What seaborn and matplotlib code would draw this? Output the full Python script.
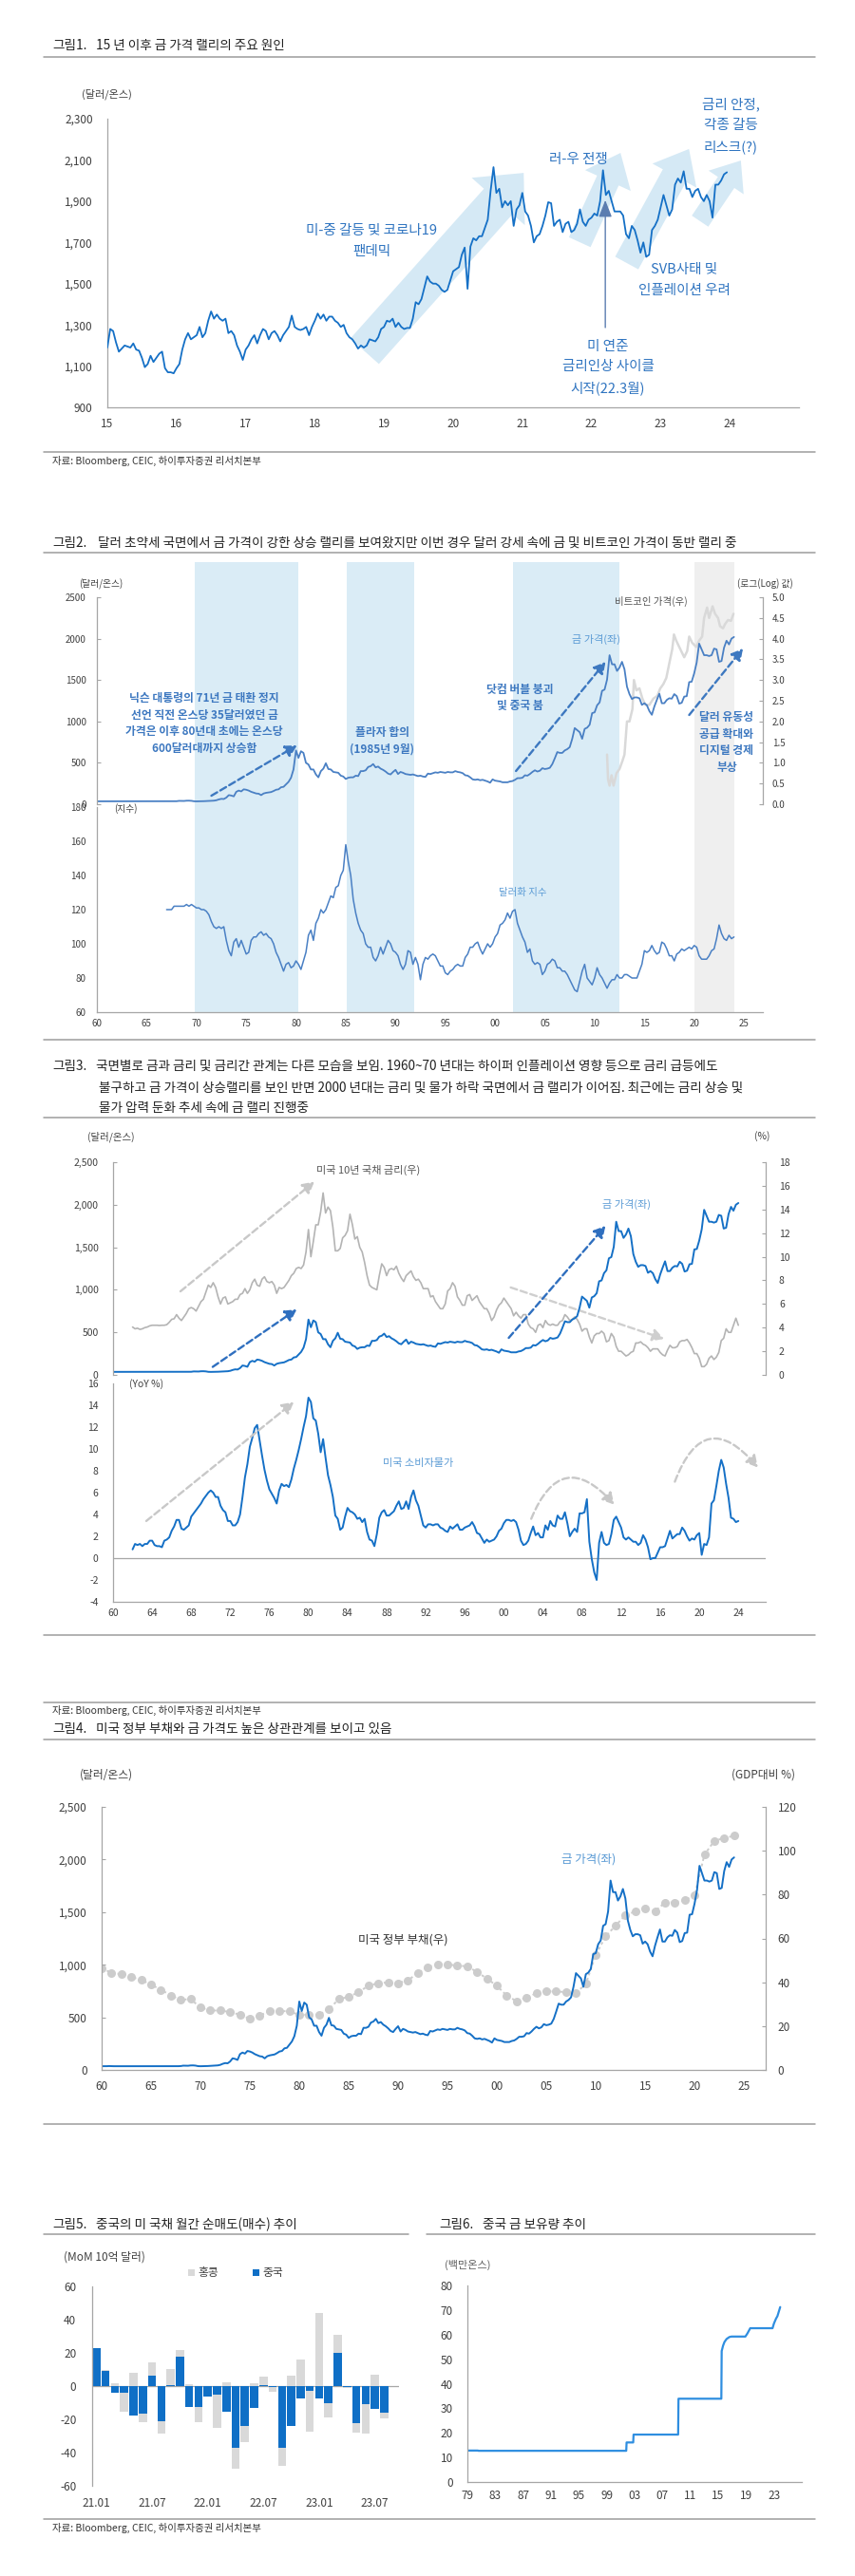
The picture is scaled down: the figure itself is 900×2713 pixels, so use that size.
import matplotlib
matplotlib.use("Agg")
import matplotlib.pyplot as plt
import numpy as np
import seaborn as sns
from matplotlib.lines import Line2D
from matplotlib.patches import Patch

sns.set_style("white")
plt.rcParams["font.family"] = ["Noto Sans CJK KR", "DejaVu Sans"]
plt.rcParams["axes.unicode_minus"] = False

# ---------------- data ----------------
# fig 1: gold price, two readings per month, Jan 2015 - Dec 2023 (USD/oz)
gold_1523 = [
    1190, 1280, 1270, 1215, 1170, 1185, 1200, 1195, 1190, 1210, 1180, 1175,
    1140, 1095, 1110, 1150, 1120, 1140, 1160, 1170, 1090, 1070, 1070, 1065,
    1090, 1110, 1180, 1230, 1260, 1230, 1240, 1250, 1290, 1240, 1260, 1320,
    1365, 1330, 1350, 1330, 1320, 1330, 1260, 1270, 1250, 1200, 1170, 1130,
    1180, 1200, 1230, 1250, 1210, 1250, 1280, 1270, 1230, 1260, 1270, 1250,
    1220, 1250, 1270, 1290, 1345, 1290, 1280, 1275, 1280, 1290, 1250, 1290,
    1320, 1355, 1330, 1350, 1320, 1340, 1340, 1320, 1310, 1290, 1300, 1260,
    1240, 1230, 1210, 1185, 1200, 1190, 1200, 1230, 1225, 1220, 1240, 1280,
    1290, 1320, 1315, 1330, 1290, 1310, 1290, 1280, 1285, 1285, 1330, 1410,
    1400, 1425, 1480, 1535, 1510, 1500, 1500, 1490, 1470, 1460, 1470, 1515,
    1560, 1570, 1580, 1640, 1675, 1475, 1680, 1720, 1710, 1730, 1730, 1770,
    1810, 1950, 2065, 1940, 1960, 1870, 1900, 1880, 1900, 1780, 1860, 1880,
    1940, 1850, 1830, 1780, 1700, 1730, 1740, 1780, 1830, 1895, 1890, 1780,
    1800, 1810, 1750, 1790, 1800, 1750, 1760, 1790, 1860, 1800, 1780, 1810,
    1820, 1840, 1830, 1900, 2050, 1930, 1950, 1900, 1850, 1850, 1850, 1830,
    1740, 1720, 1780, 1760, 1710, 1650, 1700, 1630, 1640, 1760, 1780, 1810,
    1870, 1930, 1880, 1830, 1860, 1980, 2010, 1990, 2045, 1960, 1960, 1920,
    1950, 1960, 1920, 1900, 1930, 1900, 1820, 1980, 1980, 2000, 2030, 2040,
]

# gold price, quarterly 1960Q1 - 2024Q1 (USD/oz), figs 2-4
gold_q = [
    35.3, 35.3, 35.4, 36.5, 35.6, 35.1, 35.3, 35.2, 35.1, 35.1, 35.1, 35.1,
    35.1, 35.1, 35.1, 35.1, 35.1, 35.1, 35.1, 35.1, 35.1, 35.1, 35.1, 35.1,
    35.1, 35.1, 35.2, 35.2, 35.2, 35.2, 35.2, 35.5, 36.5, 40.5, 39.5, 39.5,
    42.5, 43.0, 41.0, 36.0, 35.0, 35.5, 36.0, 37.0, 38.5, 40.0, 41.5, 43.0,
    48.0, 58.0, 65.0, 63.0, 80.0, 110.0, 105.0, 95.0, 150.0, 165.0, 155.0, 180.0,
    175.0, 165.0, 150.0, 140.0, 130.0, 127.0, 110.0, 130.0, 138.0, 143.0, 147.0, 160.0,
    175.0, 180.0, 205.0, 210.0, 240.0, 270.0, 320.0, 420.0, 650.0, 560.0, 640.0, 620.0,
    500.0, 480.0, 420.0, 420.0, 360.0, 325.0, 400.0, 430.0, 495.0, 425.0, 420.0, 390.0,
    385.0, 380.0, 345.0, 335.0, 305.0, 320.0, 325.0, 325.0, 345.0, 340.0, 400.0, 400.0,
    410.0, 450.0, 460.0, 485.0, 445.0, 455.0, 430.0, 415.0, 395.0, 370.0, 360.0, 390.0,
    415.0, 365.0, 390.0, 380.0, 365.0, 360.0, 355.0, 360.0, 350.0, 340.0, 345.0, 335.0,
    330.0, 370.0, 365.0, 375.0, 385.0, 380.0, 390.0, 385.0, 380.0, 390.0, 385.0, 385.0,
    400.0, 390.0, 385.0, 375.0, 350.0, 345.0, 325.0, 300.0, 295.0, 300.0, 290.0, 295.0,
    285.0, 275.0, 260.0, 300.0, 285.0, 280.0, 275.0, 265.0, 265.0, 265.0, 275.0, 280.0,
    295.0, 315.0, 315.0, 320.0, 350.0, 345.0, 365.0, 390.0, 410.0, 395.0, 405.0, 435.0,
    425.0, 430.0, 440.0, 485.0, 555.0, 630.0, 620.0, 620.0, 650.0, 665.0, 690.0, 790.0,
    920.0, 895.0, 870.0, 790.0, 910.0, 925.0, 960.0, 1100.0, 1110.0, 1195.0, 1230.0, 1370.0,
    1385.0, 1505.0, 1800.0, 1690.0, 1690.0, 1610.0, 1650.0, 1720.0, 1630.0, 1420.0, 1330.0, 1270.0,
    1290.0, 1290.0, 1280.0, 1200.0, 1220.0, 1195.0, 1125.0, 1080.0, 1180.0, 1260.0, 1335.0, 1220.0,
    1220.0, 1260.0, 1280.0, 1275.0, 1330.0, 1305.0, 1215.0, 1225.0, 1300.0, 1305.0, 1475.0, 1480.0,
    1580.0, 1710.0, 1940.0, 1870.0, 1800.0, 1800.0, 1790.0, 1800.0, 1880.0, 1870.0, 1720.0, 1730.0,
    1890.0, 1975.0, 1930.0, 2000.0, 2020.0,
]

# fig 2: dollar index, quarterly 1967Q1 - 2024Q1
dxy_q = [
    120, 120, 120, 122, 122, 122, 122, 122, 123, 122, 123, 122,
    121, 121, 120, 120, 119, 117, 113, 110, 109, 110, 109, 110,
    102, 96, 93, 101, 103, 98, 102, 98, 94, 95, 102, 104,
    104, 106, 107, 105, 106, 104, 103, 100, 95, 92, 88, 84,
    88, 89, 86, 87, 90, 88, 85, 90, 95, 105, 108, 102,
    112, 115, 120, 118, 120, 124, 128, 127, 133, 134, 140, 143,
    158, 148, 140, 126, 118, 112, 108, 106, 100, 98, 98, 92,
    90, 93, 98, 94, 98, 102, 100, 96, 95, 93, 88, 85,
    88, 96, 95, 88, 92, 88, 79, 88, 92, 91, 93, 94,
    93, 90, 87, 87, 83, 82, 84, 85, 87, 88, 87, 87,
    92, 94, 98, 98, 100, 101, 97, 94, 97, 100, 98, 100,
    104, 106, 111, 112, 114, 118, 115, 119, 120, 112, 108, 104,
    101, 95, 97, 90, 88, 89, 88, 82, 84, 88, 89, 91,
    90, 86, 86, 84, 84, 82, 79, 76, 73, 72, 78, 84,
    88, 80, 78, 76, 80, 86, 82, 80, 77, 74, 77, 79,
    79, 82, 80, 80, 82, 82, 81, 80, 80, 80, 84, 88,
    96, 95, 96, 99, 96, 94, 95, 101, 100, 97, 93, 93,
    90, 94, 95, 97, 96, 97, 98, 97, 99, 98, 93, 91,
    91, 91, 93, 96, 97, 103, 111, 106, 103, 102, 105, 103,
    104,
]

# fig 2: bitcoin price, log10 (right axis)
btc_year = [2011.25, 2011.35, 2011.5, 2011.7, 2011.9, 2012.2, 2012.5, 2012.8,
            2013.0, 2013.25, 2013.5, 2013.8, 2013.95, 2014.2, 2014.5, 2014.8,
            2015.1, 2015.5, 2015.9, 2016.3, 2016.6, 2016.9, 2017.2, 2017.5,
            2017.8, 2017.97, 2018.2, 2018.5, 2018.8, 2019.0, 2019.3, 2019.5,
            2019.8, 2020.0, 2020.2, 2020.5, 2020.8, 2021.0, 2021.3, 2021.5,
            2021.85, 2022.1, 2022.4, 2022.6, 2022.9, 2023.1, 2023.4, 2023.7,
            2023.95]
btc_log = [1.2, 0.6, 0.45, 0.7, 0.45, 0.75, 0.85, 1.05,
           1.2, 2.0, 2.0, 2.3, 3.0, 2.75, 2.8, 2.55,
           2.4, 2.4, 2.55, 2.62, 2.8, 2.9, 3.05, 3.4,
           3.75, 4.1, 3.95, 3.8, 3.65, 3.55, 3.7, 4.05,
           3.9, 3.85, 3.8, 3.95, 4.05, 4.5, 4.75, 4.5,
           4.78, 4.6, 4.5, 4.3, 4.25, 4.35, 4.45, 4.43,
           4.6]

# fig 3: US 10y treasury yield (%), quarterly 1962Q1 - 2024Q1
ust10y_q = [
    4.05, 3.90, 3.95, 3.85, 3.90, 4.00, 4.05, 4.15, 4.20, 4.20, 4.20, 4.18,
    4.20, 4.20, 4.25, 4.45, 4.70, 4.75, 5.10, 4.80, 4.60, 4.90, 5.20, 5.60,
    5.70, 5.60, 5.40, 5.80, 6.20, 6.40, 7.00, 7.60, 7.40, 7.80, 7.40, 6.60,
    6.00, 6.50, 6.60, 6.00, 6.10, 6.20, 6.40, 6.40, 6.80, 6.90, 7.30, 6.90,
    7.20, 7.80, 8.10, 7.60, 7.50, 8.10, 8.30, 7.90, 7.80, 7.90, 7.60, 6.90,
    7.40, 7.30, 7.40, 7.70, 8.00, 8.40, 8.60, 9.00, 9.10, 9.00, 9.30, 10.40,
    12.30, 10.00, 11.30, 12.70, 12.70, 13.80, 15.40, 13.70, 14.20, 13.90, 12.50, 10.50,
    10.50, 10.70, 11.60, 11.80, 12.20, 13.60, 12.70, 11.50, 11.70, 10.80, 10.40, 9.50,
    8.40, 7.60, 7.40, 7.30, 7.20, 8.40, 9.40, 9.10, 8.40, 8.90, 9.00, 8.90,
    9.20, 8.60, 8.20, 7.90, 8.40, 8.60, 8.80, 8.30, 8.00, 8.10, 7.80, 7.30,
    7.30, 7.30, 6.60, 6.70, 6.20, 5.90, 5.60, 5.60, 6.00, 7.10, 7.30, 7.80,
    7.50, 6.60, 6.30, 5.90, 5.90, 6.70, 6.80, 6.30, 6.50, 6.70, 6.20, 5.90,
    5.60, 5.60, 5.20, 4.60, 4.90, 5.50, 5.90, 6.10, 6.50, 6.20, 5.90, 5.60,
    5.00, 5.30, 5.00, 4.80, 5.10, 5.10, 4.30, 4.00, 3.90, 3.60, 4.20, 4.30,
    4.00, 4.60, 4.30, 4.20, 4.30, 4.20, 4.20, 4.50, 4.60, 5.10, 4.90, 4.60,
    4.70, 4.90, 4.70, 4.30, 3.70, 3.90, 3.90, 3.20, 2.70, 3.30, 3.50, 3.50,
    3.70, 3.50, 2.80, 2.90, 3.50, 3.20, 2.40, 2.00, 2.00, 1.80, 1.60, 1.70,
    1.90, 2.00, 2.70, 2.70, 2.80, 2.60, 2.50, 2.30, 2.00, 2.20, 2.20, 2.20,
    1.90, 1.70, 1.60, 2.10, 2.50, 2.30, 2.30, 2.40, 2.80, 2.90, 2.90, 3.00,
    2.70, 2.30, 1.80, 1.80, 1.40, 0.70, 0.70, 0.90, 1.40, 1.60, 1.30, 1.50,
    1.90, 2.90, 3.10, 3.90, 3.60, 3.60, 4.20, 4.80, 4.20,
]

# fig 3: US CPI (YoY %), quarterly 1962Q1 - 2024Q1
cpi_q = [
    0.8, 1.3, 1.2, 1.3, 1.1, 1.3, 1.3, 1.6, 1.6, 1.2, 1.1, 1.1,
    1.0, 1.6, 1.7, 1.9, 2.5, 2.9, 3.5, 3.5, 2.7, 2.6, 2.8, 3.0,
    3.8, 4.1, 4.4, 4.7, 5.0, 5.4, 5.7, 6.0, 6.2, 6.0, 5.6, 5.6,
    4.8, 4.4, 4.2, 3.4, 3.4, 3.0, 3.0, 3.3, 4.0, 5.6, 7.4, 8.6,
    10.2, 11.0, 11.9, 12.2, 10.8, 9.4, 8.1, 7.1, 6.3, 5.9, 5.5, 5.0,
    6.2, 6.8, 6.6, 6.7, 6.5, 7.2, 8.2, 9.0, 9.9, 10.9, 12.0, 13.0,
    14.7, 14.3, 12.8, 12.6, 11.4, 9.7, 10.9, 9.2, 7.6, 6.7, 5.6, 3.9,
    3.6, 2.6, 2.8, 3.8, 4.6, 4.3, 4.2, 4.0, 3.6, 3.7, 3.3, 3.6,
    2.4, 1.7, 1.6, 1.1, 2.2, 3.7, 4.2, 4.4, 3.9, 3.9, 4.1, 4.3,
    4.8, 5.2, 4.5, 4.6, 5.2, 4.5, 5.6, 6.2, 5.3, 4.8, 3.9, 3.0,
    2.8, 3.1, 3.1, 3.0, 3.1, 3.1, 2.8, 2.7, 2.5, 2.4, 2.9, 2.7,
    2.9, 3.1, 2.6, 2.6, 2.8, 2.9, 3.0, 3.3, 2.9, 2.3, 2.2, 1.8,
    1.4, 1.7, 1.5, 1.6, 1.7, 2.0, 2.5, 2.7, 3.2, 3.5, 3.5, 3.4,
    3.5, 3.3, 2.6, 1.6, 1.2, 1.3, 1.6, 2.3, 2.9, 2.1, 2.3, 1.9,
    1.9, 3.0, 2.6, 3.4, 3.0, 2.9, 3.9, 3.6, 3.6, 4.2, 3.2, 2.0,
    2.4, 2.7, 2.4, 4.1, 4.1, 4.2, 5.4, 1.5, -0.1, -1.3, -2.0, 1.4,
    2.4, 1.4, 1.2, 1.3, 2.2, 3.5, 3.8, 3.3, 2.8, 1.9, 1.7, 1.9,
    1.7, 1.5, 1.5, 1.2, 1.4, 2.1, 1.7, 1.0, -0.1, 0.0, 0.0, 0.5,
    1.0, 1.0, 1.1, 1.8, 2.5, 1.8, 2.0, 2.2, 2.2, 2.8, 2.5, 2.0,
    1.6, 1.8, 1.7, 2.1, 2.3, 0.3, 1.3, 1.2, 1.9, 5.0, 5.3, 6.6,
    8.0, 9.0, 8.3, 6.8, 5.5, 3.7, 3.6, 3.3, 3.4,
]

# fig 4: US federal debt (% of GDP), annual
debt_year = list(range(1960, 2025))
debt_gdp = [46.2, 44.4, 43.6, 42.4, 41.1, 38.9, 36.6, 34.0, 32.0, 32.3,
            28.5, 27.1, 27.1, 26.4, 25.2, 23.3, 24.8, 26.9, 26.9, 26.7,
            25.1, 25.2, 25.2, 27.7, 32.3, 33.3, 35.5, 38.4, 39.6, 39.9,
            39.6, 40.9, 44.2, 46.9, 48.2, 48.0, 47.7, 47.2, 44.7, 41.6,
            38.4, 33.8, 31.4, 33.0, 35.0, 35.8, 35.8, 35.5, 35.1, 39.3,
            52.5, 60.9, 65.8, 70.6, 72.3, 73.8, 72.3, 76.4, 76.4, 77.6,
            79.5, 98.2, 104.5, 105.8, 106.8]

# fig 5: monthly net purchase of US treasuries (bn USD), 2021.01 - 2023.08
months = [f"{y}.{m:02d}" for y in (21, 22, 23) for m in range(1, 13)][:32]
china_net = [23.0, 9.3, -3.8, -4.2, -17.7, -16.6, 6.5, -21.3, 0.5, 17.7, -12.4, -12.4,
             -6.5, -5.1, -15.4, -37.3, -24.0, -13.0, 0.8, -0.8, -37.0, -23.8, -7.4, -3.0,
             -7.6, -10.3, 20.2, -0.3, -22.3, -11.0, -13.9, -16.2]
hk_net = [0.0, 0.7, 2.0, -11.2, 8.2, -4.9, 8.0, -7.5, 10.0, 4.0, 1.0, -9.1,
          0.0, -20.2, 2.3, -12.6, -9.5, 1.7, 5.1, -2.8, -11.0, 6.3, 16.2, -24.4,
          44.0, -8.4, 10.8, -0.7, -5.9, -17.4, 6.9, -3.2]

# fig 6: China gold reserves (million oz)
reserve_year = [1979.0, 1980.5, 1980.6, 2001.8, 2001.85, 2002.8, 2002.85, 2009.25,
                2009.3, 2015.45, 2015.5, 2015.7, 2015.9, 2016.2, 2016.6, 2016.9,
                2018.9, 2019.2, 2019.6, 2022.8, 2023.0, 2023.3, 2023.5, 2023.9]
reserve_moz = [12.8, 12.8, 12.7, 12.7, 16.1, 16.1, 19.3, 19.3,
               33.9, 33.9, 53.3, 55.5, 57.0, 58.2, 59.0, 59.2,
               59.2, 60.5, 62.6, 62.6, 64.5, 66.5, 67.5, 71.2]

# fig 2 shaded periods
blue_periods = [(1969.8, 1980.2), (1985.1, 1991.9), (2001.8, 2012.5)]
gray_period = (2020.0, 2024.05)

# ---------------- styling ----------------
TXT = "#404040"
SPINE = "#a6a6a6"
RULE = "#9c9c9c"
BLUE = "#1570c6"
BLUE2 = "#4a80c4"
ANN = "#2f74c0"
LIGHT = "#5b9bd5"
ARROW_BG = "#d5e9f5"
NUM_FONT = ["Liberation Sans Narrow", "Noto Sans CJK KR", "DejaVu Sans"]

W, H = 900, 2713
fig = plt.figure(figsize=(W / 100, H / 100), dpi=100)


def rect(l, t, r, b):
    return [l / W, 1 - b / H, (r - l) / W, (b - t) / H]


def ptext(x, y, s, **kw):
    kw.setdefault("va", "center")
    kw.setdefault("color", TXT)
    return fig.text(x / W, 1 - y / H, s, **kw)


def rule(y, x0=46, x1=858):
    fig.add_artist(Line2D([x0 / W, x1 / W], [1 - y / H] * 2, color=RULE, lw=1.1))


def title(y, num, s, x=55, dx=46):
    ptext(x, y, num, fontsize=9.8, color="#222222")
    ptext(x + dx, y, s, fontsize=9.8, color="#222222")


def style(ax, spines=("left", "bottom"), size=8, pad=None):
    for s in ("left", "right", "top", "bottom"):
        ax.spines[s].set_visible(s in spines)
        ax.spines[s].set_color(SPINE)
        ax.spines[s].set_linewidth(0.9)
    ax.tick_params(direction="in", length=3, width=0.8, color=SPINE,
                   labelcolor=TXT, labelsize=size)
    ax.patch.set_visible(False)
    ax.set_xlabel("")
    ax.set_ylabel("")


def narrow(ax):
    for lab in ax.get_xticklabels() + ax.get_yticklabels():
        lab.set_family(NUM_FONT)


def fat_arrow(ax, tail, tip, tw, hw, hl):
    ax.annotate("", xy=tip, xytext=tail, zorder=1,
                arrowprops=dict(arrowstyle=f"simple,head_length={hl},head_width={hw},tail_width={tw}",
                                fc=ARROW_BG, ec="none", shrinkA=0, shrinkB=0,
                                mutation_scale=10))


def dash_arrow(ax, tail, tip, color, rad=0.0):
    ax.annotate("", xy=tip, xytext=tail, zorder=4,
                arrowprops=dict(arrowstyle="-|>,head_length=0.55,head_width=0.3",
                                color=color, lw=1.7, ls=(0, (3, 1.6)),
                                shrinkA=0, shrinkB=0, mutation_scale=13,
                                connectionstyle=f"arc3,rad={rad}"))


def yr_labels(years):
    return [f"{y % 100:02d}" for y in years]


# ================= fig 1 =================
title(48, "그림1.", "15 년 이후 금 가격 랠리의 주요 원인")
rule(60)
ptext(112, 99, "(달러/온스)", fontsize=8, ha="center")

ax1 = fig.add_axes(rect(113, 125, 841, 429))
x15 = 2015 + np.arange(len(gold_1523)) / 24
fat_arrow(ax1, (2018.72, 1172), (2021.02, 2037), 2.9, 5.4, 2.9)
fat_arrow(ax1, (2021.83, 1701), (2022.42, 2134), 1.8, 3.8, 2.3)
fat_arrow(ax1, (2022.51, 1600), (2023.41, 2153), 2.0, 3.8, 2.3)
fat_arrow(ax1, (2023.57, 1803), (2024.16, 2097), 1.5, 3.2, 2.0)
sns.lineplot(x=x15, y=gold_1523, ax=ax1, color=BLUE, lw=1.3, estimator=None, zorder=3)
ax1.annotate("", xy=(2022.2, 1905), xytext=(2022.2, 1287), zorder=4,
             arrowprops=dict(arrowstyle="-|>,head_length=0.9,head_width=0.35",
                             color="#5b7db0", lw=1.0, shrinkA=0, shrinkB=0,
                             mutation_scale=12))
ax1.set_xlim(2015, 2025)
ax1.set_ylim(900, 2300)
ax1.set_xticks(range(2015, 2026))
ax1.set_xticklabels(yr_labels(range(2015, 2025)) + [""])
ax1.set_yticks(range(900, 2301, 200))
ax1.set_yticklabels([f"{v:,}" for v in range(900, 2301, 200)])
style(ax1, size=8.5)
ax1.tick_params(axis="y", pad=11)
ax1.tick_params(axis="x", pad=8)
narrow(ax1)

ann1 = dict(color=ANN, fontsize=10.5, ha="center", linespacing=1.7)
ptext(391, 254, "미-중 갈등 및 코로나19\n팬데믹", **ann1)
ptext(609, 168, "러-우 전쟁", **ann1)
ptext(769, 132, "금리 안정,\n각종 갈등\n리스크(?)", **ann1)
ptext(720, 295, "SVB사태 및\n인플레이션 우려", **ann1)
ptext(640, 387, "미 연준\n금리인상 사이클\n시작(22.3월)", **ann1)

rule(476)
ptext(55, 485, "자료: Bloomberg, CEIC, 하이투자증권 리서치본부", fontsize=7.5, color="#333333")

# ================= fig 2 =================
title(572, "그림2.", "달러 초약세 국면에서 금 가격이 강한 상승 랠리를 보여왔지만 이번 경우 달러 강세 속에 금 및 비트코인 가격이 동반 랠리 중", dx=48)
rule(582)

XL2 = (1960, 2026.9)
ax2bg = fig.add_axes(rect(102, 592, 803, 1066))
for a, b in blue_periods:
    ax2bg.axvspan(a, b, color="#daecf6", lw=0)
ax2bg.axvspan(*gray_period, color="#efefef", lw=0)
ax2bg.set_xlim(*XL2)
ax2bg.set_ylim(0, 1)
ax2bg.axis("off")

xq60 = 1960 + np.arange(len(gold_q)) / 4
ax2 = fig.add_axes(rect(102, 629, 803, 847))
ax2r = ax2.twinx()
sns.lineplot(x=btc_year, y=btc_log, ax=ax2r, color="#d9d9d9", lw=1.8, estimator=None)
sns.lineplot(x=xq60, y=gold_q, ax=ax2, color=BLUE2, lw=1.3, estimator=None)
ax2.set_zorder(ax2r.get_zorder() + 1)
ax2.set_xlim(*XL2)
ax2.set_ylim(0, 2500)
ax2.set_yticks(range(0, 2501, 500))
ax2.set_xticks([])
ax2r.set_ylim(0, 5)
ax2r.set_yticks(np.arange(0, 5.01, 0.5))
ax2r.set_yticklabels([f"{v:.1f}" for v in np.arange(0, 5.01, 0.5)])
style(ax2, spines=("left",), size=7)
style(ax2r, spines=("right",), size=7)
ax2.tick_params(axis="y", pad=8)
ax2r.tick_params(axis="y", pad=7)
dash_arrow(ax2, (1971.5, 103), (1980.1, 711), "#3d78c0")
dash_arrow(ax2, (2002.1, 401), (2011.1, 1720), "#3d78c0")
dash_arrow(ax2, (2019.5, 1078), (2024.9, 1881), "#3d78c0")

ax2d = fig.add_axes(rect(102, 850, 803, 1066))
xq67 = 1967 + np.arange(len(dxy_q)) / 4
sns.lineplot(x=xq67, y=dxy_q, ax=ax2d, color=BLUE2, lw=1.1, estimator=None)
ax2d.set_xlim(*XL2)
ax2d.set_ylim(60, 180)
ax2d.set_yticks(range(60, 181, 20))
ax2d.set_xticks(range(1960, 2026, 5))
ax2d.set_xticklabels(yr_labels(range(1960, 2026, 5)))
style(ax2d, size=7)
ax2d.tick_params(axis="y", pad=8)
ax2d.tick_params(axis="x", pad=5)

ptext(106, 615, "(달러/온스)", fontsize=7, ha="center")
ptext(805, 615, "(로그(Log) 값)", fontsize=7, ha="center")
ptext(120, 852, "(지수)", fontsize=7)
ann2 = dict(color="#3d78c0", fontsize=8.5, ha="center", linespacing=1.45, fontweight="bold")
ptext(215, 762, "닉슨 대통령의 71년 금 태환 정지\n선언 직전 온스당 35달러였던 금\n가격은 이후 80년대 초에는 온스당\n600달러대까지 상승함", **ann2)
ptext(402, 780, "플라자 합의\n(1985년 9월)", **ann2)
ptext(547, 735, "닷컴 버블 붕괴\n및 중국 붐", **ann2)
ptext(765, 782, "달러 유동성\n공급 확대와\n디지털 경제\n부상", **ann2)
ptext(628, 673, "금 가격(좌)", fontsize=8, color=LIGHT, ha="center")
ptext(685, 633, "비트코인 가격(우)", fontsize=7.5, color="#555555", ha="center")
ptext(550, 940, "달러화 지수", fontsize=7.5, color=LIGHT, ha="center")
rule(1095)

# ================= fig 3 =================
title(1123, "그림3.", "국면별로 금과 금리 및 금리간 관계는 다른 모습을 보임. 1960~70 년대는 하이퍼 인플레이션 영향 등으로 금리 급등에도")
ptext(104, 1146, "불구하고 금 가격이 상승랠리를 보인 반면 2000 년대는 금리 및 물가 하락 국면에서 금 랠리가 이어짐. 최근에는 금리 상승 및", fontsize=9.8, color="#222222")
ptext(104, 1167, "물가 압력 둔화 추세 속에 금 랠리 진행중", fontsize=9.8, color="#222222")
rule(1177)
ptext(117, 1197, "(달러/온스)", fontsize=7.5, ha="center")
ptext(802, 1197, "(%)", fontsize=7.5, ha="center")

XL3 = (1960, 2026.8)
xq62 = 1962 + np.arange(len(ust10y_q)) / 4
ax3 = fig.add_axes(rect(119, 1224, 806, 1448))
ax3r = ax3.twinx()
sns.lineplot(x=xq62, y=ust10y_q, ax=ax3r, color="#b4b4b4", lw=1.2, estimator=None)
sns.lineplot(x=xq60, y=gold_q, ax=ax3, color=BLUE, lw=1.4, estimator=None)
ax3.set_zorder(ax3r.get_zorder() + 1)
ax3.set_xlim(*XL3)
ax3.set_ylim(0, 2500)
ax3.set_yticks(range(0, 2501, 500))
ax3.set_yticklabels([f"{v:,}" for v in range(0, 2501, 500)])
ax3.set_xticks([])
ax3r.set_ylim(0, 18)
ax3r.set_yticks(range(0, 19, 2))
style(ax3, spines=("left",), size=7.5)
style(ax3r, spines=("right",), size=7.5)
ax3.tick_params(axis="y", pad=11)
ax3r.tick_params(axis="y", pad=10)
dash_arrow(ax3r, (1966.9, 7.07), (1980.6, 16.35), "#c8c8c8")
dash_arrow(ax3r, (2000.7, 7.4), (2016.4, 3.05), "#cfcfcf")
dash_arrow(ax3, (1970.2, 94), (1978.8, 770), "#2f6fbf")
dash_arrow(ax3, (2000.5, 435), (2010.4, 1752), "#2f6fbf")
ptext(388, 1232, "미국 10년 국채 금리(우)", fontsize=8, color="#555555", ha="center")
ptext(659, 1268, "금 가격(좌)", fontsize=8, color=LIGHT, ha="center")

ax3d = fig.add_axes(rect(119, 1457, 806, 1687))
sns.lineplot(x=xq62, y=cpi_q, ax=ax3d, color=BLUE, lw=1.4, estimator=None)
ax3d.axhline(0, color=SPINE, lw=0.9, zorder=1)
ax3d.set_xlim(*XL3)
ax3d.set_ylim(-4, 16)
ax3d.set_yticks(range(-4, 17, 2))
ax3d.set_xticks(range(1960, 2025, 4))
ax3d.set_xticklabels(yr_labels(range(1960, 2025, 4)))
style(ax3d, size=7.5)
ax3d.tick_params(axis="y", pad=11)
ax3d.tick_params(axis="x", pad=5)
dash_arrow(ax3d, (1963.4, 3.4), (1978.5, 14.3), "#c8c8c8")
dash_arrow(ax3d, (2002.8, 3.6), (2011.3, 4.9), "#c8c8c8", rad=-0.8)
dash_arrow(ax3d, (2017.5, 7.0), (2026.0, 8.3), "#c8c8c8", rad=-0.85)
ptext(154, 1458, "(YoY %)", fontsize=7.5, ha="center")
ptext(440, 1541, "미국 소비자물가", fontsize=8, color=LIGHT, ha="center")
rule(1722)

# ================= fig 4 =================
rule(1793)
ptext(55, 1801, "자료: Bloomberg, CEIC, 하이투자증권 리서치본부", fontsize=7.5, color="#333333")
title(1821, "그림4.", "미국 정부 부채와 금 가격도 높은 상관관계를 보이고 있음")
rule(1832)
ptext(112, 1869, "(달러/온스)", fontsize=8.5, ha="center")
ptext(803, 1869, "(GDP대비 %)", fontsize=8.5, ha="center")

ax4 = fig.add_axes(rect(107, 1903, 806, 2180))
ax4r = ax4.twinx()
sns.lineplot(x=debt_year, y=debt_gdp, ax=ax4r, color="#cccccc", lw=1.4, ls=(0, (1.5, 1.5)),
             marker="o", markersize=6.5, markeredgewidth=0, estimator=None)
sns.lineplot(x=xq60, y=gold_q, ax=ax4, color=BLUE, lw=1.4, estimator=None)
ax4.set_zorder(ax4r.get_zorder() + 1)
ax4.set_xlim(1960, 2027.2)
ax4.set_ylim(0, 2500)
ax4.set_yticks(range(0, 2501, 500))
ax4.set_yticklabels([f"{v:,}" for v in range(0, 2501, 500)])
ax4.set_xticks(range(1960, 2026, 5))
ax4.set_xticklabels(yr_labels(range(1960, 2026, 5)))
ax4r.set_ylim(0, 120)
ax4r.set_yticks(range(0, 121, 20))
style(ax4, size=8.5)
style(ax4r, spines=("right",), size=8.5)
ax4.tick_params(axis="y", pad=11)
ax4.tick_params(axis="x", pad=8)
ax4r.tick_params(axis="y", pad=9)
narrow(ax4)
narrow(ax4r)
ptext(424, 2043, "미국 정부 부채(우)", fontsize=9, color="#333333", ha="center")
ptext(620, 1958, "금 가격(좌)", fontsize=9, color=LIGHT, ha="center")
rule(2237)

# ================= fig 5 =================
title(2343, "그림5.", "중국의 미 국채 월간 순매도(매수) 추이")
rule(2353, 46, 430)
ptext(110, 2377, "(MoM 10억 달러)", fontsize=8.5, ha="center")

ax5 = fig.add_axes(rect(97, 2408, 420, 2618))
pos = np.arange(len(china_net))
hk_base = [c if c * h > 0 else 0.0 for c, h in zip(china_net, hk_net)]
ax5.bar(pos, hk_net, bottom=hk_base, width=0.88, color="#d9d9d9", lw=0)
sns.barplot(x=pos, y=china_net, ax=ax5, color="#0f6fc6", saturation=1, width=0.88, lw=0)
ax5.axhline(0, color=SPINE, lw=0.9, zorder=0.5)
ax5.set_xlim(-0.45, 32.6)
ax5.set_ylim(-60, 60)
ax5.set_yticks(range(-60, 61, 20))
ax5.set_xticks(pos[::6])
ax5.set_xticklabels(months[::6])
style(ax5, spines=("left",), size=8.5)
ax5.tick_params(axis="x", length=0, pad=9)
ax5.tick_params(axis="y", pad=12)
fig.legend([Patch(facecolor="#d9d9d9", edgecolor="none"), Patch(facecolor="#0f6fc6", edgecolor="none")],
           ["홍콩", "중국"], loc="center", bbox_to_anchor=(248 / W, 1 - 2394 / H),
           ncol=2, frameon=False, fontsize=8.5, handlelength=0.6, handleheight=0.6,
           handletextpad=0.3, columnspacing=3.0, labelcolor=TXT)

# ================= fig 6 =================
title(2343, "그림6.", "중국 금 보유량 추이", x=462)
rule(2353, 449, 858)
ptext(492, 2385, "(백만온스)", fontsize=8, ha="center", color="#606060")

ax6 = fig.add_axes(rect(492, 2407, 844, 2614))
sns.lineplot(x=reserve_year, y=reserve_moz, ax=ax6, color="#2f8ee0", lw=1.6, estimator=None)
ax6.set_xlim(1979, 2027)
ax6.set_ylim(0, 80)
ax6.set_yticks(range(0, 81, 10))
ax6.set_xticks(range(1979, 2028, 4))
ax6.set_xticklabels(yr_labels(range(1979, 2024, 4)) + [""])
style(ax6, size=8.5)
ax6.tick_params(axis="y", pad=11)
ax6.tick_params(axis="x", pad=6)

rule(2653)
ptext(55, 2662, "자료: Bloomberg, CEIC, 하이투자증권 리서치본부", fontsize=7.5, color="#333333")

fig.savefig("out.png", dpi=100, facecolor="white")
